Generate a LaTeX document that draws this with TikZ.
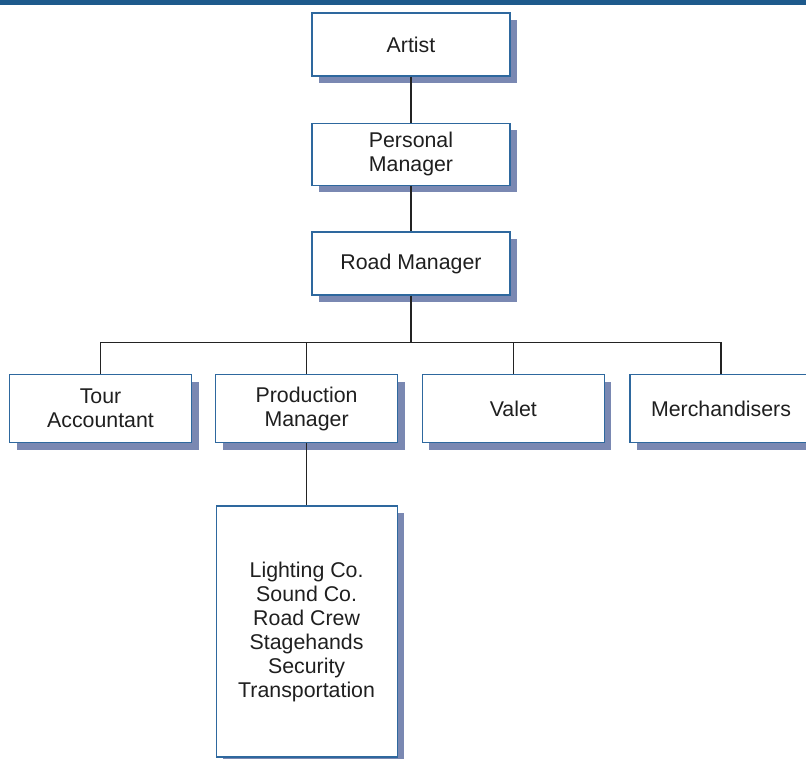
\documentclass[tikz,border=0pt]{standalone}
\usepackage{xcolor}
\usepackage{fontspec}
\setmainfont{Liberation Sans}
\usepackage{tikz}
\usetikzlibrary{shadows}

\definecolor{barblue}{RGB}{30,90,140}
\definecolor{edgeblue}{RGB}{46,104,158}
\definecolor{shadowblue}{RGB}{122,136,178}
\definecolor{linegray}{RGB}{35,35,35}

\tikzset{
  rolebox/.style={draw=edgeblue, line width=0.9pt, fill=white, align=center,
    inner sep=2pt, font=\fontsize{16}{18}\selectfont, text=black!88,
    drop shadow={shadow xshift=5.25pt, shadow yshift=-5.25pt, opacity=1, fill=shadowblue}},
  topbox/.style={rolebox, minimum width=148.5pt},
  crewbox/.style={rolebox, minimum width=136.5pt, minimum height=51pt},
  link/.style={draw=linegray, line width=0.9pt}
}

\begin{document}
\begin{tikzpicture}[x=0.75pt,y=-0.75pt]
        \clip (0,0) rectangle (806,759); %page is 806 x 759

        %Shape: Rectangle [top bar]
        \fill[barblue] (0,0) rectangle (806,5);

        %Chain of command
        \node[topbox, minimum height=47.25pt] (artist) at (411,44.5) {Artist};
        \node[topbox, minimum height=46.5pt] (personal) at (411,154.2) {Personal\\Manager};
        \node[topbox, minimum height=47.25pt] (road) at (411,263.5) {Road Manager};

        %Second row
        \node[crewbox] (tour) at (100.5,408.5) {Tour\\Accountant};
        \node[crewbox] (production) at (306.6,408.5) {Production\\Manager};
        \node[crewbox] (valet) at (513.3,408.5) {Valet};
        \node[crewbox] (merch) at (721,408.5) {Merchandisers};

        %Production crew
        \node[rolebox, minimum width=135.75pt, minimum height=188.25pt] (crew) at (306.6,631.5)
          {Lighting Co.\\Sound Co.\\Road Crew\\Stagehands\\Security\\Transportation};

        %Straight Lines
        \coordinate (bus) at (411,342.7);
        \draw[link] (artist) -- (personal);
        \draw[link] (personal) -- (road);
        \draw[link] (road) -- (bus);
        \draw[link] (tour.north) |- (bus) -| (merch.north);
        \draw[link] (production.north) -- (production.north |- bus);
        \draw[link] (valet.north) -- (valet.north |- bus);
        \draw[link] (production) -- (crew);
\end{tikzpicture}
\end{document}
